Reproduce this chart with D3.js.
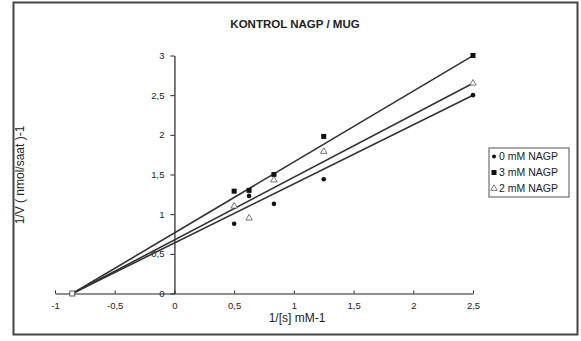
<!DOCTYPE html>
<html>
<head>
<meta charset="utf-8">
<script src="https://cdn.jsdelivr.net/npm/d3@7"></script>
<style>
  body { margin: 0; background: #fff; }
  svg { display: block; font-family: 'Liberation Sans', Arial, sans-serif; }
</style>
</head>
<body>
<svg id="chart" width="581" height="341"></svg>
<script>
// 1/[S] values (mM-1)
const invS = [0.5, 0.625, 0.833, 1.25, 2.5]
const seriesNames = ['0 mM NAGP', '3 mM NAGP', '2 mM NAGP']
const v0 = [0.88, 1.23, 1.13, 1.44, 2.5]
const v3 = [1.29, 1.3, 1.5, 1.98, 3.0]
const v2 = [1.1, 0.95, 1.43, 1.79, 2.65]
// trendlines: slope, intercept
const trendSlope = [0.745, 0.894, 0.79]
const trendIntercept = [0.637, 0.764, 0.675]
const xIntercept = -0.855
const xTicks = [-1, -0.5, 0, 0.5, 1, 1.5, 2, 2.5]
const yTicks = [0, 0.5, 1, 1.5, 2, 2.5, 3]

let svg = d3.select('#chart')
let fmt = d => String(d).replace('.', ',')

// frame
svg.append('rect')
  .attr('x', 13.5).attr('y', 2.5)
  .attr('width', 564).attr('height', 332)
  .attr('fill', 'none').attr('stroke', '#444').attr('stroke-width', 2)

let x = d3.scaleLinear().domain([-1, 2.5]).range([55, 473])
let y = d3.scaleLinear().domain([0, 3]).range([293.5, 55.5])

let xAxis = d3.axisBottom(x).tickValues(xTicks).tickSize(0).tickPadding(9).tickFormat(fmt)
let gx = svg.append('g').attr('transform', 'translate(0,' + y(0) + ')').call(xAxis)
gx.selectAll('.tick').append('line').attr('y1', 0).attr('y2', -3).attr('stroke', '#222')

let yAxis = d3.axisLeft(y).tickValues(yTicks).tickSize(4).tickPadding(6).tickSizeOuter(0).tickFormat(fmt)
let gy = svg.append('g').attr('transform', 'translate(' + x(0) + ',0)').call(yAxis)

svg.selectAll('.domain').attr('stroke', '#222').attr('stroke-width', 1.2)
svg.selectAll('.tick line').attr('stroke', '#222')
svg.selectAll('.tick text').attr('font-size', '9.5px').attr('fill', '#222')

// trendlines
let lines = svg.append('g')
trendSlope.forEach((m, i) => {
  let b = trendIntercept[i]
  lines.append('line')
    .attr('x1', x(-b / m)).attr('y1', y(0))
    .attr('x2', x(2.5)).attr('y2', y(b + m * 2.5))
    .attr('stroke', '#333').attr('stroke-width', 1.6)
})

// markers
let pts = svg.append('g')
pts.selectAll('.dot').data(v0).enter().append('circle')
  .attr('cx', (d, i) => x(invS[i])).attr('cy', d => y(d))
  .attr('r', 2.3).attr('fill', '#111')
pts.selectAll('.sq').data(v3).enter().append('rect')
  .attr('x', (d, i) => x(invS[i]) - 2.5).attr('y', d => y(d) - 2.5)
  .attr('width', 5).attr('height', 5).attr('fill', '#111')
let tri = d3.symbol().type(d3.symbolTriangle).size(18)
pts.selectAll('.tri').data(v2).enter().append('path')
  .attr('d', tri)
  .attr('transform', (d, i) => 'translate(' + x(invS[i]) + ',' + y(d) + ')')
  .attr('fill', '#fff').attr('stroke', '#555').attr('stroke-width', 0.8)
pts.append('rect')
  .attr('x', x(xIntercept) - 2.5).attr('y', y(0) - 2.5)
  .attr('width', 5).attr('height', 5)
  .attr('fill', '#fff').attr('stroke', '#333').attr('stroke-width', 0.8)

// titles
svg.append('text')
  .attr('x', 295).attr('y', 28)
  .attr('text-anchor', 'middle')
  .attr('font-size', '11.5px').attr('font-weight', 'bold').attr('fill', '#222')
  .text('KONTROL NAGP / MUG')
svg.append('text')
  .attr('transform', 'translate(24,175) rotate(-90)')
  .attr('text-anchor', 'middle')
  .attr('font-size', '12px').attr('fill', '#222')
  .text('1/V ( nmol/saat )-1')
svg.append('text')
  .attr('x', 297).attr('y', 322)
  .attr('text-anchor', 'middle')
  .attr('font-size', '12px').attr('fill', '#222')
  .text('1/[s] mM-1')

// legend
let lg = svg.append('g').attr('transform', 'translate(489,148)')
lg.append('rect').attr('width', 80).attr('height', 49)
  .attr('fill', '#fff').attr('stroke', '#555').attr('stroke-width', 1)
seriesNames.forEach((n, i) => {
  let cy = 8.5 + i * 16
  if (i === 0) lg.append('circle').attr('cx', 5).attr('cy', cy).attr('r', 2).attr('fill', '#111')
  if (i === 1) lg.append('rect').attr('x', 2.5).attr('y', cy - 2.5).attr('width', 5).attr('height', 5).attr('fill', '#111')
  if (i === 2) lg.append('path').attr('d', tri).attr('transform', 'translate(5,' + cy + ')')
    .attr('fill', '#fff').attr('stroke', '#555').attr('stroke-width', 0.8)
  lg.append('text').attr('x', 10).attr('y', cy + 3.5)
    .attr('font-size', '10.5px').attr('fill', '#222').text(n)
})
</script>
</body>
</html>
